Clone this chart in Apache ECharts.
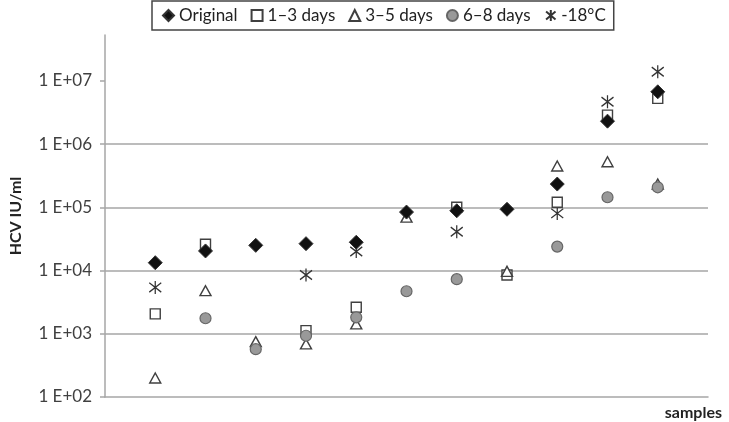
<!DOCTYPE html>
<html lang="en">
<head>
    <meta charset="UTF-8">
    <title>HCV IU/ml by sample</title>
    <script src="https://cdn.jsdelivr.net/npm/echarts@6/dist/echarts.min.js"></script>
</head>
<body style="margin:0;background:#fff">
<div id="main" style="width:729px;height:422px;"></div>
<script type="text/javascript">
    // samples along x (no labels shown)
    var samples = [1, 2, 3, 4, 5, 6, 7, 8, 9, 10, 11];

    // HCV IU/ml, null = marker not visible
    var original = [1.33e4, 2.04e4, 2.5e4, 2.66e4, 2.8e4, 8.4e4, 8.8e4, 9.3e4, 2.33e5, 2.3e6, 6.7e6];
    var days13   = [2.06e3, 2.6e4, null, 1.12e3, 2.63e3, null, 1.0e5, 8.5e3, 1.2e5, 2.87e6, 5.27e6];
    var days35   = [200, 4.8e3, 750, 690, 1.43e3, 7.0e4, null, 9.7e3, 4.5e5, 5.25e5, 2.33e5];
    var days68   = [null, 1.76e3, 570, 930, 1.82e3, 4.7e3, 7.3e3, null, 2.39e4, 1.44e5, 2.07e5];
    var minus18  = [5.4e3, null, null, 8.5e3, 2.0e4, null, 4.1e4, null, 8.0e4, 4.66e6, 1.39e7];

    var yTicks = [1e2, 1e3, 1e4, 1e5, 1e6, 1e7];

    function pts(vals) {
        var out = [];
        for (var i = 0; i < vals.length; i++) {
            if (vals[i] != null) out.push([samples[i], vals[i]]);
        }
        return out;
    }

    var starPath = 'path://M6 0 L6 14 M0 2 L12 12 M0 12 L12 2';
    var font = 'Lato, "Open Sans", sans-serif';

    var myChart = echarts.init(document.getElementById('main'));

    var option = {
        animation: false,
        textStyle: { fontFamily: font },
        legend: {
            left: 152,
            top: 1,
            padding: [6, 8, 6, 10],
            itemGap: 13,
            itemWidth: 11,
            itemHeight: 11,
            borderColor: '#444',
            borderWidth: 1.5,
            backgroundColor: '#fff',
            textStyle: { fontFamily: font, fontSize: 17, color: '#222' },
            data: ['Original', '1\u20133 days', '3\u20135 days', '6\u20138 days', '-18\u00b0C']
        },
        grid: { left: 102, right: 21, top: 35, bottom: 25 },
        xAxis: {
            type: 'value',
            min: 0,
            max: 12,
            name: 'samples',
            nameLocation: 'end',
            nameGap: 14,
            nameTextStyle: {
                fontFamily: font, fontSize: 16, fontWeight: 'bold', color: '#222',
                align: 'right', verticalAlign: 'top', padding: [8, 0, 0, 0]
            },
            axisLine: { lineStyle: { color: '#a6a6a6', width: 1.5 } },
            axisTick: { show: false },
            axisLabel: { show: false },
            splitLine: { show: false }
        },
        yAxis: {
            type: 'log',
            logBase: 10,
            min: 100,
            max: 5.3e7,
            name: 'HCV IU/ml',
            nameLocation: 'middle',
            nameGap: 81,
            nameTextStyle: { fontFamily: font, fontSize: 16, fontWeight: 'bold', color: '#222' },
            axisLine: { show: true, lineStyle: { color: '#a6a6a6', width: 1.5 } },
            axisTick: { show: true, length: 5, customValues: yTicks, lineStyle: { color: '#a6a6a6', width: 1.5 } },
            axisLabel: {
                fontFamily: font, fontSize: 17, color: '#404040', margin: 13,
                showMaxLabel: false,
                formatter: function (v) {
                    var e = Math.round(Math.log10(v));
                    return '1 E+' + (e < 10 ? '0' : '') + e;
                }
            },
            splitLine: { show: true, showMinLine: false, showMaxLine: false, lineStyle: { color: '#a6a6a6', width: 1.5 } }
        },
        series: [
            {
                name: 'Original', type: 'scatter', z: 6,
                symbol: 'diamond', symbolSize: 14,
                itemStyle: { color: '#111', borderColor: '#333', borderWidth: 1, opacity: 1 },
                data: pts(original)
            },
            {
                name: '1\u20133 days', type: 'scatter', z: 3,
                symbol: 'rect', symbolSize: 10,
                itemStyle: { color: '#fff', borderColor: '#404040', borderWidth: 1.4, opacity: 1 },
                data: pts(days13)
            },
            {
                name: '3\u20135 days', type: 'scatter', z: 4,
                symbol: 'triangle', symbolSize: [11, 10],
                itemStyle: { color: '#fff', borderColor: '#404040', borderWidth: 1.4, opacity: 1 },
                data: pts(days35)
            },
            {
                name: '6\u20138 days', type: 'scatter', z: 5,
                symbol: 'circle', symbolSize: 11,
                itemStyle: { color: '#999', borderColor: '#666', borderWidth: 1.2, opacity: 1 },
                data: pts(days68)
            },
            {
                name: '-18\u00b0C', type: 'scatter', z: 2,
                symbol: starPath, symbolSize: [12, 13],
                itemStyle: { color: 'none', borderColor: '#333', borderWidth: 1.3, opacity: 1 },
                data: pts(minus18)
            }
        ]
    };

    myChart.setOption(option);
</script>
</body>
</html>
